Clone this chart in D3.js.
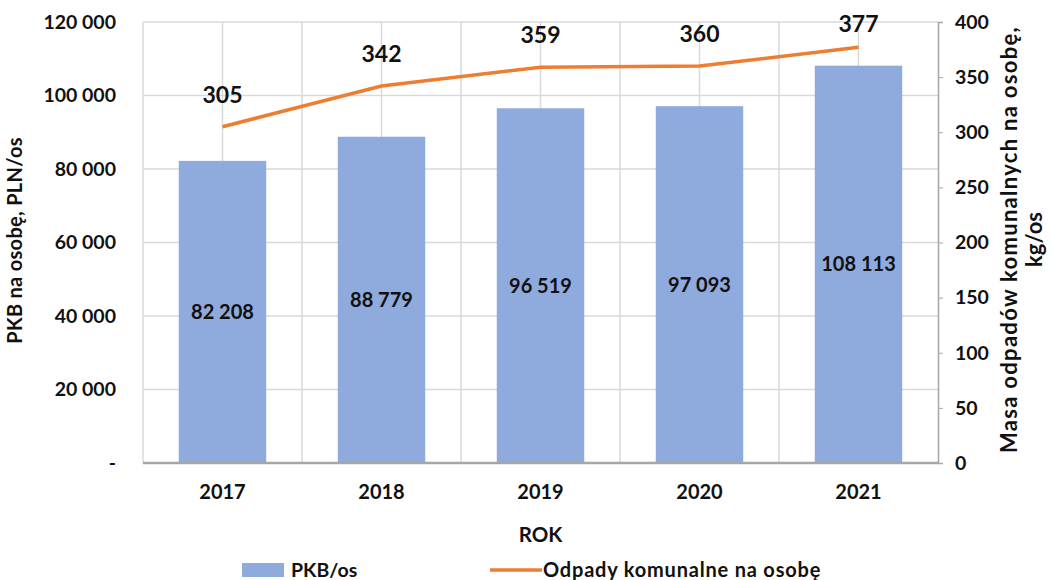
<!DOCTYPE html>
<html>
<head>
<meta charset="utf-8">
<script src="https://cdn.jsdelivr.net/npm/d3@7"></script>
<style>
  body { margin: 0; background: #fff; }
  text { font-family: Lato, "Open Sans", sans-serif; font-weight: bold; fill: #111; }
</style>
</head>
<body>
<div id="chart"></div>
<script>
// data
var years = ["2017", "2018", "2019", "2020", "2021"];
var pkb = [82208, 88779, 96519, 97093, 108113];
var odpady = [305, 342, 359, 360, 377];
var leftTicks = [0, 20000, 40000, 60000, 80000, 100000, 120000];
var rightTicks = [0, 50, 100, 150, 200, 250, 300, 350, 400];

var svgWidth = 1054, svgHeight = 580;
var margin = { top: 22, right: 116, bottom: 117, left: 143 };
var chartWidth = svgWidth - margin.left - margin.right;
var chartHeight = svgHeight - margin.top - margin.bottom;

var svg = d3.select("#chart").append("svg")
  .attr("width", svgWidth)
  .attr("height", svgHeight);

var chartGroup = svg.append("g")
  .attr("transform", `translate(${margin.left}, ${margin.top})`);

var x = d3.scaleBand().domain(years).range([0, chartWidth]).paddingInner(0.45).paddingOuter(0.225);
var yLeft = d3.scaleLinear().domain([0, 120000]).range([chartHeight, 0]);
var yRight = d3.scaleLinear().domain([0, 400]).range([chartHeight, 0]);

var fmt = function(v) { return v === 0 ? "-" : d3.format(",")(v).replace(/,/g, " "); };

// grid - horizontal
chartGroup.append("g").selectAll("line")
  .data(leftTicks)
  .enter().append("line")
  .attr("x1", 0).attr("x2", chartWidth)
  .attr("y1", d => yLeft(d)).attr("y2", d => yLeft(d))
  .attr("stroke", "#d9d9d9").attr("stroke-width", 1.5);

// grid - vertical at category centres and boundaries
var step = x.step();
var vLines = [];
years.forEach(function(d, i) {
  vLines.push(i * step);
  vLines.push(x(d) + x.bandwidth() / 2);
});
chartGroup.append("g").selectAll("line")
  .data(vLines)
  .enter().append("line")
  .attr("x1", d => d).attr("x2", d => d)
  .attr("y1", 0).attr("y2", chartHeight)
  .attr("stroke", "#d9d9d9").attr("stroke-width", 1.5);

// bars
chartGroup.selectAll(".bar")
  .data(pkb)
  .enter().append("rect")
  .attr("class", "bar")
  .attr("x", (d, i) => x(years[i]))
  .attr("width", x.bandwidth())
  .attr("y", d => yLeft(d))
  .attr("height", d => chartHeight - yLeft(d))
  .attr("fill", "#8faadc");

// bar labels
chartGroup.selectAll(".barlab")
  .data(pkb)
  .enter().append("text")
  .attr("x", (d, i) => x(years[i]) + x.bandwidth() / 2)
  .attr("y", d => (yLeft(d) + chartHeight) / 2)
  .attr("dy", "0.35em")
  .attr("text-anchor", "middle")
  .style("font-size", "20px")
  .text(fmt);

// bottom axis line
chartGroup.append("line")
  .attr("x1", 0).attr("x2", chartWidth)
  .attr("y1", chartHeight).attr("y2", chartHeight)
  .attr("stroke", "#a6a6a6").attr("stroke-width", 2.5);

// left axis (labels only)
var yAxis = d3.axisLeft(yLeft).tickValues(leftTicks).tickFormat(fmt).tickSize(0).tickPadding(27);
var gl = chartGroup.append("g").call(yAxis);
gl.select(".domain").remove();
gl.selectAll("text").style("font-size", "19.5px").attr("fill", "#111");

// right axis
var yAxisR = d3.axisRight(yRight).tickValues(rightTicks).tickSize(5).tickPadding(12);
var gr = chartGroup.append("g").attr("transform", `translate(${chartWidth}, 0)`).call(yAxisR);
gr.select(".domain").attr("stroke", "#a6a6a6").attr("stroke-width", 1.5);
gr.selectAll("line").attr("stroke", "#a6a6a6");
gr.selectAll("text").style("font-size", "19.5px").attr("fill", "#111");

// x axis labels
var xAxis = d3.axisBottom(x).tickSize(0).tickPadding(22);
var gx = chartGroup.append("g").attr("transform", `translate(0, ${chartHeight})`).call(xAxis);
gx.select(".domain").remove();
gx.selectAll("text").style("font-size", "20px").attr("fill", "#111");

// line
var line = d3.line()
  .x((d, i) => x(years[i]) + x.bandwidth() / 2)
  .y(d => yRight(d));
chartGroup.append("path")
  .attr("d", line(odpady))
  .attr("fill", "none")
  .attr("stroke", "#ed7d31")
  .attr("stroke-width", 3.5);

chartGroup.selectAll(".linelab")
  .data(odpady)
  .enter().append("text")
  .attr("x", (d, i) => x(years[i]) + x.bandwidth() / 2)
  .attr("y", d => Math.max(yRight(d) - 32, 2))
  .attr("dy", "0.35em")
  .attr("text-anchor", "middle")
  .style("font-size", "23px")
  .text(d => d);

// axis titles
svg.append("text")
  .attr("transform", `translate(22, ${margin.top + chartHeight / 2 - 2}) rotate(-90)`)
  .attr("text-anchor", "middle")
  .style("font-size", "20px")
  .style("letter-spacing", "0.3px")
  .text("PKB na osobę, PLN/os");

svg.append("text")
  .attr("transform", `translate(1017, ${margin.top + chartHeight / 2 - 3}) rotate(-90)`)
  .attr("text-anchor", "middle")
  .style("font-size", "22px")
  .style("letter-spacing", "1.3px")
  .text("Masa odpadów komunalnych na osobę,");
svg.append("text")
  .attr("transform", `translate(1042, ${margin.top + chartHeight / 2 - 3}) rotate(-90)`)
  .attr("text-anchor", "middle")
  .style("font-size", "22px")
  .text("kg/os");

svg.append("text")
  .attr("x", margin.left + chartWidth / 2)
  .attr("y", 535)
  .attr("dy", "0.35em")
  .attr("text-anchor", "middle")
  .style("font-size", "20.5px")
  .text("ROK");

// legend
var legend = svg.append("g").attr("transform", "translate(0, 570)");
legend.append("rect").attr("x", 242).attr("y", -7).attr("width", 42).attr("height", 14).attr("fill", "#8faadc");
legend.append("text").attr("x", 291).attr("y", 0).attr("dy", "0.35em").style("font-size", "19.5px").text("PKB/os");
legend.append("line").attr("x1", 490).attr("x2", 542).attr("y1", 0).attr("y2", 0)
  .attr("stroke", "#ed7d31").attr("stroke-width", 3.5);
legend.append("text").attr("x", 543).attr("y", 0).attr("dy", "0.35em").style("font-size", "20px")
  .style("letter-spacing", "0.8px").text("Odpady komunalne na osobę");
</script>
</body>
</html>
